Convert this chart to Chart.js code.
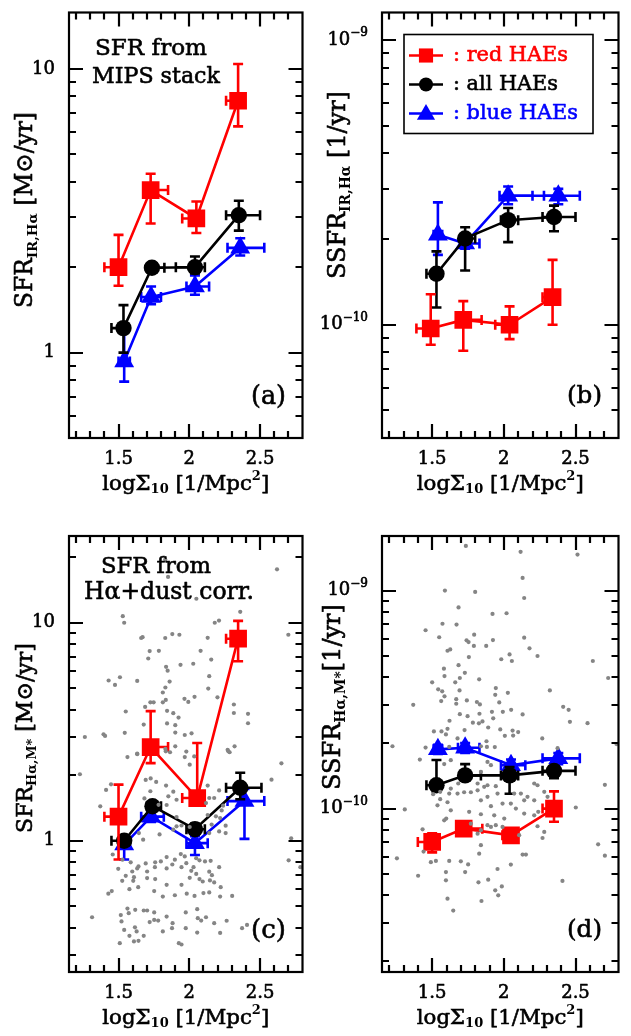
<!DOCTYPE html>
<html><head><meta charset="utf-8">
<script src="https://cdn.jsdelivr.net/npm/chart.js@4.4.1/dist/chart.umd.min.js"></script>
<style>
body{margin:0;background:#fff}
#wrap{position:relative;width:631px;height:1036px;background:#fff}
canvas{position:absolute}
</style></head>
<body><div id="wrap">
<canvas id="ca" width="315" height="510" style="left:0;top:0;width:315px;height:510px"></canvas>
<canvas id="cb" width="316" height="510" style="left:315px;top:0;width:316px;height:510px"></canvas>
<canvas id="cc" width="315" height="526" style="left:0;top:510px;width:315px;height:526px"></canvas>
<canvas id="cd" width="316" height="526" style="left:315px;top:510px;width:316px;height:526px"></canvas>
</div>
<script>
// ---------------- DATA ----------------
const xTickValues = [1.5, 2, 2.5];
const xTickLabels = ['1.5', '2', '2.5'];
const xMinorTicks = [1.2,1.3,1.4,1.6,1.7,1.8,1.9,2.1,2.2,2.3,2.4,2.6,2.7];

// Panel (a): SFR_IR,Ha [Msun/yr]
const aRed   = {x:[1.50,1.727,2.05,2.345], y:[2.0,3.74,2.97,7.72], ylo:[1.72,2.85,2.64,6.27], yhi:[2.6,4.27,3.41,10.4], xlo:[1.40,1.70,1.95,2.26], xhi:[1.53,1.85,2.08,2.38]};
const aAll   = {x:[1.535,1.736,2.04,2.35], y:[1.22,1.99,2.0,3.05], ylo:[1.0,1.92,1.9,2.69], yhi:[1.47,2.07,2.18,3.43], xlo:[1.45,1.70,1.905,2.26], xhi:[1.57,1.824,2.11,2.5]};
const aBlue  = {x:[1.54,1.73,2.04,2.36], y:[0.93,1.57,1.71,2.34], ylo:[0.79,1.48,1.6,2.2], yhi:[1.24,1.71,1.87,2.53], xlo:[1.50,1.66,1.98,2.27], xhi:[1.58,1.80,2.14,2.53]};
// Panel (b): SSFR_IR,Ha [1/yr]
const bRed   = {x:[1.49,1.717,2.04,2.34], y:[9.7e-11,1.04e-10,1.0e-10,1.25e-10], ylo:[8.5e-11,8.1e-11,8.9e-11,1.0e-10], yhi:[1.28e-10,1.21e-10,1.16e-10,1.69e-10], xlo:[1.39,1.68,1.94,2.27], xhi:[1.52,1.845,2.07,2.37]};
const bAll   = {x:[1.53,1.73,2.03,2.35], y:[1.51e-10,2.01e-10,2.33e-10,2.39e-10], ylo:[1.15e-10,1.55e-10,1.95e-10,2.13e-10], yhi:[1.81e-10,2.2e-10,2.57e-10,2.62e-10], xlo:[1.46,1.70,1.98,2.27], xhi:[1.56,1.80,2.10,2.5]};
const bBlue  = {x:[1.54,1.73,2.03,2.38], y:[2.07e-10,1.93e-10,2.84e-10,2.84e-10], ylo:[1.76e-10,1.85e-10,2.65e-10,2.65e-10], yhi:[2.69e-10,2.0e-10,3.06e-10,3.0e-10], xlo:[1.51,1.70,1.97,2.28], xhi:[1.57,1.83,2.20,2.53]};
// Panel (c): SFR_Ha,M* [Msun/yr]
const cRed   = {x:[1.50,1.727,2.056,2.345], y:[1.29,2.69,1.57,8.45], ylo:[0.82,2.27,1.45,6.66], yhi:[1.81,3.93,2.81,10.2], xlo:[1.40,1.70,1.95,2.26], xhi:[1.53,1.85,2.09,2.38]};
const cAll   = {x:[1.54,1.74,2.04,2.36], y:[1.0,1.44,1.13,1.75], ylo:[0.95,1.38,1.08,1.55], yhi:[1.05,1.5,1.2,2.05], xlo:[1.45,1.70,1.98,2.26], xhi:[1.58,1.80,2.11,2.51]};
const cBlue  = {x:[1.54,1.73,2.04,2.39], y:[0.96,1.29,0.975,1.52], ylo:[0.82,1.22,0.86,1.02], yhi:[1.05,1.36,1.05,1.73], xlo:[1.50,1.66,1.98,2.27], xhi:[1.58,1.82,2.13,2.53]};
// Panel (d): SSFR_Ha,M* [1/yr]
const dRed   = {x:[1.50,1.72,2.05,2.35], y:[7.03e-11,8.09e-11,7.54e-11,1.0e-10], ylo:[6.3e-11,7.6e-11,7.1e-11,8.7e-11], yhi:[7.7e-11,8.6e-11,8.0e-11,1.2e-10], xlo:[1.40,1.69,1.99,2.27], xhi:[1.53,1.85,2.09,2.38]};
const dAll   = {x:[1.53,1.73,2.04,2.35], y:[1.28e-10,1.42e-10,1.42e-10,1.49e-10], ylo:[1.2e-10,1.35e-10,1.17e-10,1.38e-10], yhi:[1.67e-10,1.6e-10,1.55e-10,1.56e-10], xlo:[1.46,1.70,1.98,2.27], xhi:[1.56,1.84,2.10,2.5]};
const dBlue  = {x:[1.54,1.73,2.05,2.38], y:[1.87e-10,1.9e-10,1.58e-10,1.7e-10], ylo:[1.78e-10,1.8e-10,1.5e-10,1.6e-10], yhi:[1.96e-10,2.0e-10,1.68e-10,1.8e-10], xlo:[1.51,1.68,1.98,2.27], xhi:[1.57,1.83,2.15,2.53]};

// Individual galaxies (grey dots), panel (c): x = log Sigma10, value stored as log10(SFR)
const cGrayX = [1.83,1.85,2.62,2.05,2.36,1.53,1.54,2.18,2.21,2.70,1.66,1.67,1.83,1.88,1.93,2.13,1.72,1.785,1.71,2.08,2.155,1.836,1.847,1.938,2.028,1.43,1.475,1.51,1.632,1.861,1.831,1.813,2.141,2.134,1.725,1.748,1.813,1.834,1.966,1.993,2.037,2.199,1.551,1.688,1.843,1.887,1.924,1.843,1.901,1.678,2.315,2.315,2.415,2.415,1.262,1.394,1.405,1.544,1.901,1.968,2.016,1.901,1.831,1.979,2.271,2.285,2.32,1.632,1.864,
1.227,1.563,1.632,1.834,1.968,2.003,2.035,2.276,1.447,1.412,1.371,1.692,1.727,1.766,1.836,1.887,1.852,1.91,1.783,1.84,1.725,1.683,2.13,2.141,2.176,2.118,2.211,2.239,2.229,2.218,2.188,2.581,2.651,2.257,1.91,1.91,1.945,2.13,2.158,1.644,1.674,1.79,1.887,2.003,2.141,2.211,2.257,2.72,2.702,2.785,1.459,1.528,1.586,1.641,1.692,1.759,1.799,1.84,1.898,1.94,1.968,1.979,2.049,2.072,2.111,2.151,1.498,1.597,1.702,1.757,1.632,1.84,1.88,1.945,2.03,2.141,2.211,1.551,1.609,1.526,1.604,1.702,1.759,1.84,1.945,2.003,2.014,2.049,2.072,2.095,2.16,2.176,2.222,2.146,1.428,1.452,1.577,1.639,1.752,1.813,1.898,1.982,2.037,2.1,2.141,2.218,2.303,1.313,1.516,1.563,1.572,1.618,1.678,1.702,1.752,1.752,1.72,1.78,1.84,1.882,1.975,2.056,2.06,2.084,2.118,2.176,2.264,1.521,1.54,1.616,1.628,1.577,1.609,1.641,1.678,1.813,1.878,1.975,1.926,1.945,2.056,2.218,2.373,2.408,1.509];
const cGrayLogSFR = [1.29,1.21,1.245,1.11,1.05,1.03,1.00,1.00,1.01,0.945,0.93,0.934,0.93,0.948,0.945,0.931,0.87,0.871,0.836,0.871,0.831,0.798,0.78,0.807,0.812,0.735,0.715,0.75,0.733,0.73,0.703,0.68,0.755,0.698,0.635,0.635,0.635,0.646,0.651,0.637,0.66,0.658,0.593,0.614,0.596,0.585,0.565,0.538,0.53,0.533,0.625,0.586,0.582,0.539,0.476,0.488,0.481,0.495,0.496,0.485,0.493,0.433,0.421,0.409,0.417,0.406,0.433,0.397,0.406,
0.305,0.384,0.40,0.41,0.384,0.349,0.387,0.41,0.259,0.233,0.158,0.279,0.286,0.27,0.253,0.225,0.204,0.188,0.165,0.164,0.227,0.194,0.253,0.196,0.196,0.173,0.231,0.161,0.139,0.104,0.112,0.28,0.355,0.069,0.109,0.066,0.07,0.118,0.074,0.035,0.005,0.029,0.051,0.063,0.035,0.043,0.035,0.011,-0.09,-0.121,-0.063,-0.087,-0.099,-0.118,-0.104,-0.099,-0.095,-0.075,-0.087,-0.061,-0.072,-0.103,-0.08,-0.09,-0.095,-0.092,-0.129,-0.141,-0.141,-0.121,-0.127,-0.127,-0.109,-0.121,-0.121,-0.142,-0.121,-0.161,-0.167,-0.184,-0.184,-0.171,-0.176,-0.202,-0.202,-0.17,-0.138,-0.152,-0.176,-0.187,-0.158,-0.191,-0.213,-0.182,-0.243,-0.231,-0.222,-0.213,-0.231,-0.256,-0.25,-0.243,-0.253,-0.24,-0.237,-0.256,-0.253,-0.351,-0.341,-0.311,-0.332,-0.317,-0.32,-0.32,-0.329,-0.363,-0.373,-0.366,-0.348,-0.378,-0.329,-0.314,-0.355,-0.366,-0.351,-0.378,-0.367,-0.37,-0.409,-0.397,-0.416,-0.436,-0.462,-0.459,-0.436,-0.416,-0.401,-0.401,-0.47,-0.476,-0.421,-0.423,-0.401,-0.386,-0.47];
// panel (d): value stored as log10(SSFR)
const dGrayX = [1.735,2.117,2.514,2.131,2.142,1.589,1.80,1.684,1.921,2.019,1.572,1.67,1.454,1.793,1.549,2.142,1.74,1.754,1.791,1.877,1.924,1.607,1.626,1.756,2.179,2.04,1.982,2.056,2.235,2.621,1.582,1.684,1.586,1.728,1.693,1.661,1.828,1.5,2.728,1.542,1.57,1.691,1.586,1.563,1.742,1.668,1.668,1.812,1.833,1.944,1.94,2.028,1.968,2.321,1.368,1.693,1.747,1.83,1.917,1.993,2.051,2.131,2.414,2.452,2.461,2.584,1.621,1.784,1.826,1.851,1.926,1.607,1.512,1.565,1.596,1.726,1.891,1.975,2.007,2.061,2.065,2.1,2.268,1.677,1.879,1.223,1.454,1.619,1.84,1.882,1.937,2.375,2.786,
1.414,1.584,1.63,1.886,1.91,1.84,1.817,1.682,1.63,1.619,1.556,1.507,1.556,1.537,1.607,1.677,1.723,1.77,1.817,1.863,1.886,1.944,1.956,1.84,1.886,1.91,1.991,2.049,2.072,2.119,2.142,2.165,2.212,2.212,2.235,2.282,2.305,2.24,2.142,2.084,2.003,1.933,1.84,1.886,1.91,1.944,1.991,1.84,1.817,1.77,1.758,1.63,1.598,1.584,1.309,1.433,1.44,1.254,1.491,1.526,1.619,1.7,1.751,1.84,1.828,1.73,1.596,1.596,1.402,1.607,1.647,1.823,1.891,1.956,2.049,1.94,1.961,1.986,1.844,2.131,2.154,2.107,2.282,2.27,2.409,2.502,2.705,2.658,2.705,2.212,2.235];
const dGrayLogSSFR = [-8.795,-8.822,-8.835,-8.942,-9.034,-9.0,-9.006,-9.077,-9.107,-9.104,-9.152,-9.156,-9.182,-9.202,-9.214,-9.216,-9.228,-9.236,-9.254,-9.254,-9.227,-9.276,-9.27,-9.305,-9.265,-9.293,-9.315,-9.323,-9.3,-9.323,-9.358,-9.342,-9.392,-9.377,-9.401,-9.421,-9.407,-9.421,-9.401,-9.453,-9.462,-9.458,-9.485,-9.507,-9.504,-9.498,-9.519,-9.511,-9.522,-9.447,-9.478,-9.469,-9.513,-9.458,-9.524,-9.567,-9.576,-9.565,-9.556,-9.556,-9.547,-9.568,-9.533,-9.547,-9.602,-9.608,-9.597,-9.606,-9.609,-9.6,-9.586,-9.634,-9.646,-9.646,-9.66,-9.64,-9.628,-9.637,-9.666,-9.642,-9.665,-9.649,-9.678,-9.678,-9.691,-9.714,-9.72,-9.717,-9.714,-9.717,-9.718,-9.723,-9.704,
-9.775,-9.796,-9.778,-9.786,-9.801,-9.832,-9.885,-9.885,-9.908,-9.931,-9.923,-9.934,-9.957,-9.985,-9.971,-9.931,-9.925,-9.925,-9.916,-9.9,-9.893,-9.897,-9.931,-9.962,-9.946,-9.989,-9.977,-9.977,-9.931,-9.931,-9.962,-9.946,-9.885,-9.962,-9.893,-9.923,-9.946,-10.015,-10.023,-10.0,-10.046,-10.031,-10.026,-10.076,-10.084,-10.076,-10.084,-10.099,-10.115,-10.069,-10.015,-10.008,-10.046,-10.054,-10.004,-10.095,-10.197,-10.228,-10.246,-10.24,-10.24,-10.242,-10.256,-10.168,-10.207,-10.291,-10.291,-10.329,-10.308,-10.413,-10.468,-10.338,-10.326,-10.277,-10.257,-10.375,-10.398,-10.357,-10.424,-10.211,-10.211,-10.122,-10.107,-10.135,-10.332,-9.995,-9.891,-10.164,-10.216,-10.031,-10.081];

// y ticks
const sfrMajor = [1, 10];
const sfrMajorLabels = ['1', '10'];
const sfrMinorA = [0.5,0.6,0.7,0.8,0.9,2,3,4,5,6,7,8,9];
const sfrMinorC = [0.3,0.4,0.5,0.6,0.7,0.8,0.9,2,3,4,5,6,7,8,9,20];
const ssfrMajor = [1e-10, 1e-9];
const ssfrMajorExp = ['\u221210', '\u22129'];
const ssfrMinorB = [4e-11,5e-11,6e-11,7e-11,8e-11,9e-11,2e-10,3e-10,4e-10,5e-10,6e-10,7e-10,8e-10,9e-10];
const ssfrMinorD = [2e-11,3e-11,4e-11,5e-11,6e-11,7e-11,8e-11,9e-11,2e-10,3e-10,4e-10,5e-10,6e-10,7e-10,8e-10,9e-10];

const legendLabels = [': red HAEs', ': all HAEs', ': blue HAEs'];

// ---------------- STYLE / DRAWING ----------------
const FONT = '"DejaVu Serif","Liberation Serif",serif';
const RED = '#ff0000', BLACK = '#000000', BLUE = '#0000ff', GREY = '#858585';
const LW = 2.6;

function richW(ctx, parts, k) {
  let w = 0;
  for (const p of parts) { ctx.font = (p.b ? 'bold ' : '') + (p.s * k) + 'px ' + FONT; w += ctx.measureText(p.t).width; }
  return w;
}
function drawRich(ctx, parts, x, y, o) {
  o = o || {};
  ctx.save();
  ctx.translate(x, y);
  if (o.rot) ctx.rotate(-Math.PI / 2);
  let k = 1;
  if (o.width) { k = o.width / richW(ctx, parts, 1); k = Math.max(0.75, Math.min(1.3, k)); }
  const w = richW(ctx, parts, k);
  let cx = o.align === 'left' ? 0 : (o.align === 'right' ? -w : -w / 2);
  ctx.textBaseline = 'middle';
  ctx.textAlign = 'left';
  ctx.lineJoin = 'round';
  for (const p of parts) {
    ctx.font = (p.b ? 'bold ' : '') + (p.s * k) + 'px ' + FONT;
    const col = p.c || o.color || '#000';
    ctx.fillStyle = col; ctx.strokeStyle = col; ctx.lineWidth = 0.6;
    ctx.fillText(p.t, cx, (p.dy || 0) * k);
    if (!p.b) ctx.strokeText(p.t, cx, (p.dy || 0) * k);
    cx += ctx.measureText(p.t).width;
  }
  ctx.restore();
}
function marker(ctx, style, x, y, r, color) {
  ctx.save(); ctx.fillStyle = color; ctx.beginPath();
  if (style === 'rect') { const h = r * Math.SQRT1_2; ctx.rect(x - h, y - h, 2 * h, 2 * h); }
  else if (style === 'circle') { ctx.arc(x, y, r, 0, Math.PI * 2); }
  else { const a = 2 * Math.PI / 3; ctx.moveTo(x, y - r); ctx.lineTo(x + Math.sin(a) * r, y - Math.cos(a) * r); ctx.lineTo(x + Math.sin(2 * a) * r, y - Math.cos(2 * a) * r); ctx.closePath(); }
  ctx.fill(); ctx.restore();
}

function seriesDataset(s, color, style, radius) {
  return {
    data: s.x.map((v, i) => ({x: v, y: s.y[i]})),
    err: s,
    showLine: true, borderColor: color, backgroundColor: color, borderWidth: LW,
    pointStyle: style, pointRadius: radius, pointBorderWidth: 0, pointBackgroundColor: color,
    pointHoverRadius: radius
  };
}

function makePanel(id, cfg) {
  const datasets = [];
  if (cfg.gray) {
    datasets.push({data: cfg.gray.x.map((v, i) => ({x: v, y: Math.pow(10, cfg.gray.ly[i])})),
      showLine: false, pointRadius: 2.1, pointBorderWidth: 0, pointBackgroundColor: GREY, backgroundColor: GREY, borderColor: GREY});
  }
  datasets.push(seriesDataset(cfg.red, RED, 'rect', 12.5));
  datasets.push(seriesDataset(cfg.all, BLACK, 'circle', 8.2));
  datasets.push(seriesDataset(cfg.blue, BLUE, 'triangle', 11.5));

  const plugin = {
    id: 'deco' + id,
    beforeDatasetDraw(chart, args) {
      const ds = chart.data.datasets[args.index];
      if (!ds.err) return;
      const ctx = chart.ctx, xs = chart.scales.x, ys = chart.scales.y, a = chart.chartArea;
      ctx.save();
      ctx.beginPath(); ctx.rect(a.left, a.top, a.right - a.left, a.bottom - a.top); ctx.clip();
      ctx.strokeStyle = ds.borderColor; ctx.lineWidth = LW;
      const cap = 5, e = ds.err;
      for (let i = 0; i < e.x.length; i++) {
        const px = xs.getPixelForValue(e.x[i]), py = ys.getPixelForValue(e.y[i]);
        const y0 = ys.getPixelForValue(e.ylo[i]), y1 = ys.getPixelForValue(e.yhi[i]);
        const x0 = xs.getPixelForValue(e.xlo[i]), x1 = xs.getPixelForValue(e.xhi[i]);
        ctx.beginPath();
        ctx.moveTo(px, y0); ctx.lineTo(px, y1);
        ctx.moveTo(px - cap, y0); ctx.lineTo(px + cap, y0);
        ctx.moveTo(px - cap, y1); ctx.lineTo(px + cap, y1);
        ctx.moveTo(x0, py); ctx.lineTo(x1, py);
        ctx.moveTo(x0, py - cap); ctx.lineTo(x0, py + cap);
        ctx.moveTo(x1, py - cap); ctx.lineTo(x1, py + cap);
        ctx.stroke();
      }
      ctx.restore();
    },
    afterDraw(chart) {
      const ctx = chart.ctx, xs = chart.scales.x, ys = chart.scales.y, a = chart.chartArea;
      ctx.save();
      ctx.strokeStyle = '#000'; ctx.lineWidth = 2.2;
      ctx.strokeRect(a.left, a.top, a.right - a.left, a.bottom - a.top);
      ctx.beginPath();
      const tick = (v, len) => { const p = Math.round(xs.getPixelForValue(v)); ctx.moveTo(p, a.bottom); ctx.lineTo(p, a.bottom - len); ctx.moveTo(p, a.top); ctx.lineTo(p, a.top + len); };
      xTickValues.forEach(v => tick(v, 14));
      xMinorTicks.forEach(v => tick(v, 7));
      const ytick = (v, len) => { const p = Math.round(ys.getPixelForValue(v)); ctx.moveTo(a.left, p); ctx.lineTo(a.left + len, p); ctx.moveTo(a.right, p); ctx.lineTo(a.right - len, p); };
      cfg.yMajor.forEach(v => ytick(v, 14));
      cfg.yMinor.forEach(v => ytick(v, 7));
      ctx.stroke();
      ctx.restore();
      // x tick labels
      xTickValues.forEach((v, i) => drawRich(ctx, [{t: xTickLabels[i], s: 18}], xs.getPixelForValue(v), a.bottom + 21, {}));
      // y tick labels
      cfg.yMajor.forEach((v, i) => drawRich(ctx, cfg.yLabel(i), a.left - 14, ys.getPixelForValue(v), {align: 'right'}));
      // x title
      drawRich(ctx, [{t: 'log\u03a3', s: 18}, {t: '10', s: 11, dy: 5, b: true}, {t: ' [1/Mpc', s: 18}, {t: '2', s: 11, dy: -6, b: true}, {t: ']', s: 18}],
        (a.left + a.right) / 2, a.bottom + 46, {width: 167});
      // y title
      drawRich(ctx, cfg.yTitle, cfg.yTitlePos[0], cfg.yTitlePos[1], {rot: true, width: cfg.yTitlePos[2]});
      // panel label
      drawRich(ctx, [{t: cfg.tag, s: 20}], a.right - 34, a.bottom - 41, {width: 35});
      if (cfg.note) cfg.note.forEach(n => drawRich(ctx, [{t: n[0], s: 19}], a.left + n[1], a.top + n[2], {width: n[3]}));
      if (cfg.legend) {
        const L = a.left, T = a.top;
        ctx.save(); ctx.strokeStyle = '#000'; ctx.lineWidth = 1.6;
        ctx.strokeRect(L + 22, T + 22, 189, 99); ctx.restore();
        const cols = [RED, BLACK, BLUE], styles = ['rect', 'circle', 'triangle'], rr = [10, 7, 10.5];
        [43, 72, 101].forEach((yy, i) => {
          ctx.save(); ctx.strokeStyle = cols[i]; ctx.lineWidth = LW; ctx.beginPath();
          ctx.moveTo(L + 27, T + yy); ctx.lineTo(L + 61, T + yy); ctx.stroke(); ctx.restore();
          marker(ctx, styles[i], L + 44, T + yy + (i === 2 ? 1 : 0), rr[i], cols[i]);
          drawRich(ctx, [{t: legendLabels[i], s: 19}], L + 71, T + yy, {align: 'left', color: cols[i], width: [115, 105, 125][i]});
        });
      }
    }
  };

  return new Chart(document.getElementById(id), {
    type: 'scatter',
    data: {datasets},
    options: {
      responsive: false, animation: false, devicePixelRatio: 1, events: [],
      layout: {padding: cfg.pad},
      plugins: {legend: {display: false}, tooltip: {enabled: false}},
      scales: {
        x: {type: 'linear', min: 1.15, max: 2.8, display: false},
        y: {type: 'logarithmic', min: cfg.yMin, max: cfg.yMax, display: false}
      }
    },
    plugins: [plugin]
  });
}

const sfrLabel = i => [{t: sfrMajorLabels[i], s: 18}];
const ssfrLabel = i => [{t: '10', s: 18}, {t: ssfrMajorExp[i], s: 12, dy: -7}];

makePanel('ca', {
  red: aRed, all: aAll, blue: aBlue, yMin: 0.5, yMax: 15.8, yMajor: sfrMajor, yMinor: sfrMinorA, yLabel: sfrLabel,
  pad: {left: 69, right: 8, top: 3, bottom: 72}, tag: '(a)',
  yTitle: [{t: 'SFR', s: 19}, {t: 'IR,H\u03b1', s: 11, dy: 6, b: true}, {t: ' [M\u2299/yr]', s: 19}], yTitlePos: [26, 210, 196],
  note: [['SFR from', 82, 36, 112], ['MIPS stack', 87, 65, 128]]
});
makePanel('cb', {
  red: bRed, all: bAll, blue: bBlue, yMin: 4e-11, yMax: 1.25e-9, yMajor: ssfrMajor, yMinor: ssfrMinorB, yLabel: ssfrLabel,
  pad: {left: 67, right: 10, top: 3, bottom: 72}, tag: '(b)',
  yTitle: [{t: 'SSFR', s: 19}, {t: 'IR,H\u03b1', s: 11, dy: 6, b: true}, {t: ' [1/yr]', s: 19}], yTitlePos: [24, 185, 188],
  legend: true
});
makePanel('cc', {
  red: cRed, all: cAll, blue: cBlue, yMin: 0.25, yMax: 25, yMajor: sfrMajor, yMinor: sfrMinorC, yLabel: sfrLabel,
  gray: {x: cGrayX, ly: cGrayLogSFR},
  pad: {left: 69, right: 8, top: 26, bottom: 64}, tag: '(c)',
  yTitle: [{t: 'SFR', s: 19}, {t: 'H\u03b1,M*', s: 11, dy: 6, b: true}, {t: ' [M\u2299/yr]', s: 19}], yTitlePos: [26, 228, 190],
  note: [['SFR from', 87, 31, 110], ['H\u03b1+dust corr.', 100, 57, 170]]
});
makePanel('cd', {
  red: dRed, all: dAll, blue: dBlue, yMin: 1.78e-11, yMax: 1.78e-9, yMajor: ssfrMajor, yMinor: ssfrMinorD, yLabel: ssfrLabel,
  gray: {x: dGrayX, ly: dGrayLogSSFR},
  pad: {left: 67, right: 10, top: 26, bottom: 64}, tag: '(d)',
  yTitle: [{t: 'SSFR', s: 19}, {t: 'H\u03b1,M*', s: 11, dy: 6, b: true}, {t: '[1/yr]', s: 19}], yTitlePos: [19, 187, 186]
});
</script>
</body></html>
